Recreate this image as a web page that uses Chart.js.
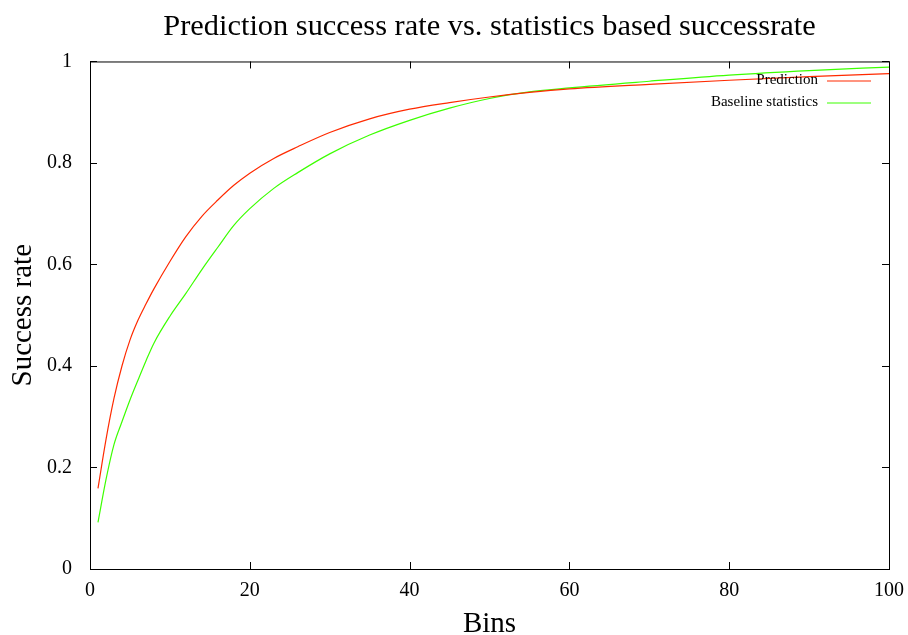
<!DOCTYPE html>
<html>
<head>
<meta charset="utf-8">
<script src="https://cdn.jsdelivr.net/npm/chart.js@4"></script>
<style>
  html, body { margin: 0; padding: 0; background: #fff; }
  #chart { display: block; }
</style>
</head>
<body>
<canvas id="chart" width="908" height="635"></canvas>
<script>
// Datos
const bins = [1, 2, 3, 4, 5, 6, 7, 8, 10, 12, 14, 16, 18, 20, 23, 26, 30, 35, 40, 45, 50, 55, 60, 70, 80, 90, 100];
const prediction = [0.159, 0.255, 0.336, 0.400, 0.451, 0.490, 0.522, 0.552, 0.606, 0.655, 0.695, 0.727, 0.756, 0.780, 0.809, 0.832, 0.860, 0.887, 0.906, 0.919, 0.930, 0.939, 0.946, 0.955, 0.963, 0.970, 0.976];
const baseline = [0.092, 0.176, 0.245, 0.290, 0.333, 0.372, 0.410, 0.445, 0.498, 0.543, 0.590, 0.634, 0.677, 0.710, 0.750, 0.781, 0.818, 0.855, 0.884, 0.908, 0.927, 0.940, 0.948, 0.961, 0.973, 0.982, 0.989];
const xTicks = [0, 20, 40, 60, 80, 100];
const yTicks = [0, 0.2, 0.4, 0.6, 0.8, 1];
const seriesLabels = ['Prediction', 'Baseline statistics'];

const serif = "'Liberation Serif', 'DejaVu Serif', serif";

// Marco y marcas hacia dentro, estilo gnuplot
const framePlugin = {
    id: 'frame',
    afterDraw(chart) {
        const { ctx, chartArea: a, scales } = chart;
        ctx.save();
        ctx.strokeStyle = '#000';
        ctx.lineWidth = 1;
        ctx.strokeRect(a.left + 0.5, a.top + 0.5, a.right - a.left, a.bottom - a.top);
        ctx.beginPath();
        xTicks.forEach(v => {
            const x = Math.round(scales.x.getPixelForValue(v)) + 0.5;
            ctx.moveTo(x, a.bottom); ctx.lineTo(x, a.bottom - 7);
            ctx.moveTo(x, a.top); ctx.lineTo(x, a.top + 7);
        });
        yTicks.forEach(v => {
            const y = Math.round(scales.y.getPixelForValue(v)) + 0.5;
            ctx.moveTo(a.left, y); ctx.lineTo(a.left + 7, y);
            ctx.moveTo(a.right, y); ctx.lineTo(a.right - 7, y);
        });
        ctx.stroke();
        ctx.restore();
    }
};

// Leyenda: texto alineado a la derecha y muestra de línea
const legendPlugin = {
    id: 'gpLegend',
    afterDraw(chart) {
        const { ctx, chartArea: a } = chart;
        ctx.save();
        ctx.font = '15px ' + serif;
        ctx.textAlign = 'right';
        ctx.textBaseline = 'middle';
        chart.data.datasets.forEach((ds, i) => {
            const y = a.top + 19 + i * 22;
            ctx.fillStyle = '#000';
            ctx.fillText(ds.label, a.right - 71, y);
            ctx.strokeStyle = ds.borderColor;
            ctx.lineWidth = 1.2;
            ctx.beginPath();
            ctx.moveTo(a.right - 62, y + 0.5);
            ctx.lineTo(a.right - 18, y + 0.5);
            ctx.stroke();
        });
        ctx.restore();
    }
};

new Chart(document.getElementById('chart'), {
    type: 'line',
    data: {
        datasets: [
            {
                label: seriesLabels[0],
                data: bins.map((b, i) => ({ x: b, y: prediction[i] })),
                borderColor: '#ff2a00',
                borderWidth: 1.2,
                pointRadius: 0,
                cubicInterpolationMode: 'monotone',
                fill: false
            },
            {
                label: seriesLabels[1],
                data: bins.map((b, i) => ({ x: b, y: baseline[i] })),
                borderColor: '#3cff00',
                borderWidth: 1.2,
                pointRadius: 0,
                cubicInterpolationMode: 'monotone',
                fill: false
            }
        ]
    },
    options: {
        responsive: false,
        animation: false,
        devicePixelRatio: 1,
        layout: { padding: 0 },
        scales: {
            x: {
                type: 'linear',
                min: 0,
                max: 100,
                afterBuildTicks: s => { s.ticks = xTicks.map(v => ({ value: v })); },
                afterFit: s => { s.height = 66; s.paddingLeft = 0; s.paddingRight = 19; },
                grid: { display: false },
                border: { display: false },
                ticks: { color: '#000', padding: 2, maxRotation: 0, font: { family: serif, size: 20 } },
                title: { display: true, text: 'Bins', color: '#000', padding: { top: 0, bottom: -4 }, font: { family: serif, size: 29, lineHeight: 1 } }
            },
            y: {
                min: 0,
                max: 1,
                afterBuildTicks: s => { s.ticks = yTicks.map(v => ({ value: v })); },
                afterFit: s => { s.width = 90; },
                grid: { display: false },
                border: { display: false },
                ticks: { color: '#000', padding: 10, font: { family: serif, size: 20 }, callback: v => String(v) },
                title: { display: true, text: 'Success rate', color: '#000', padding: { top: 6, bottom: 0 }, font: { family: serif, size: 29 } }
            }
        },
        plugins: {
            legend: { display: false },
            tooltip: { enabled: false },
            title: {
                display: true,
                fullSize: false,
                text: 'Prediction success rate vs. statistics based successrate',
                color: '#000',
                padding: { top: 9, bottom: 16 },
                font: { family: serif, size: 30.4, weight: 'normal' }
            }
        }
    },
    plugins: [framePlugin, legendPlugin]
});
</script>
</body>
</html>
